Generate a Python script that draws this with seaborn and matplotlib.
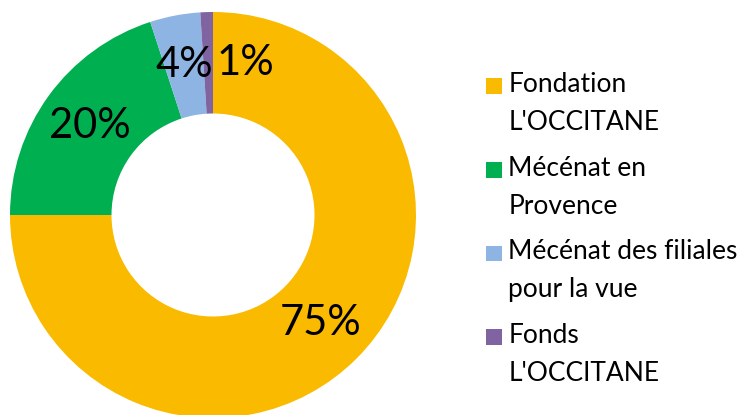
import matplotlib
matplotlib.use("Agg")
import numpy as np
import matplotlib.pyplot as plt
import seaborn as sns
from matplotlib.patches import Rectangle
from matplotlib.legend_handler import HandlerPatch

# Données
labels = ["Fondation\nL'OCCITANE", "Mécénat en\nProvence",
          "Mécénat des filiales\npour la vue", "Fonds\nL'OCCITANE"]
values = [75, 20, 4, 1]
pct_labels = ["75%", "20%", "4%", "1%"]
colors = ["#F9BA00", "#00B050", "#8DB4E2", "#8064A2"]

sns.set_theme(style="white")
plt.rcParams['font.family'] = ['Lato', 'DejaVu Sans']

fig = plt.figure(figsize=(7.37, 4.15), dpi=100)
ax = fig.add_axes([10 / 737, -3 / 415, 406 / 737, 406 / 415])

palette = sns.color_palette(colors)
wedges, texts = ax.pie(values, colors=palette, startangle=90, counterclock=False,
                       wedgeprops=dict(width=0.5, linewidth=0))
ax.set_xlim(-1, 1)
ax.set_ylim(-1, 1)
ax.set_aspect("equal")
ax.axis("off")

# Étiquettes de pourcentage au milieu de l'anneau
for w, txt in zip(wedges, pct_labels):
    ang = np.deg2rad((w.theta1 + w.theta2) / 2)
    r = 0.75
    x, y = r * np.cos(ang), r * np.sin(ang)
    ha = "center"
    if txt == "1%":
        ha = "left"
        x += 0.04
    ax.text(x, y, txt, ha=ha, va="center", fontsize=30, color="black")


def square_up(legend, orig_handle, xdescent, ydescent, width, height, fontsize):
    s = 0.6 * fontsize
    return Rectangle((-xdescent, -ydescent + height / 2 - s / 2 + 0.68 * fontsize), s, s)


leg = fig.legend(wedges, labels, loc="upper left", bbox_to_anchor=(486 / 737, 1 - 72 / 415),
                 frameon=False, fontsize=19, handlelength=0.6, handleheight=0.6,
                 handletextpad=0.25, labelspacing=0.78, borderpad=0, borderaxespad=0,
                 handler_map={w: HandlerPatch(patch_func=square_up) for w in wedges})
for t in leg.get_texts():
    t.set_linespacing(1.65)
    t.set_color("black")

fig.savefig("out.png", dpi=100)
